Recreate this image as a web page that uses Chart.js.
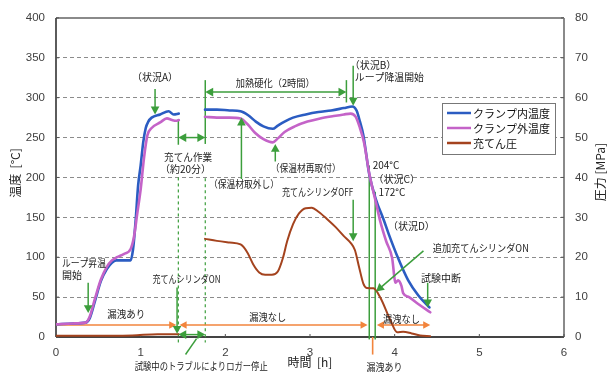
<!DOCTYPE html>
<html lang="ja">
<head>
<meta charset="utf-8">
<title>ループ温度と充てん圧の推移</title>
<script src="https://cdn.jsdelivr.net/npm/chart.js@4.4.1/dist/chart.umd.min.js"></script>
<style>
  html, body { margin: 0; padding: 0; background: #fff; }
  #wrap { width: 611px; height: 377px; }
</style>
</head>
<body>
<div id="wrap"><canvas id="chart" width="611" height="377"></canvas></div>
<script>
// 目盛り
const hourTicks = [0, 1, 2, 3, 4, 5, 6];
const tempTicks = [0, 50, 100, 150, 200, 250, 300, 350, 400];
const pressTicks = [0, 10, 20, 30, 40, 50, 60, 70, 80];

// クランプ内温度 [°C]（null はロガー停止中）
const innerTime = [0, 0.2, 0.35, 0.40, 0.46, 0.53, 0.60, 0.66, 0.71, 0.80, 0.88, 0.91, 0.94, 0.97, 1.00, 1.03, 1.06, 1.09, 1.13, 1.23, 1.33, 1.39, 1.45, 1.60,
  1.76, 1.90, 2.05, 2.18, 2.27, 2.36, 2.45, 2.56, 2.62, 2.70, 2.80, 2.95, 3.10, 3.25, 3.40, 3.50, 3.55, 3.59, 3.63, 3.70, 3.78, 3.87, 3.93, 4.04, 4.16, 4.28, 4.41];
const innerTemp = [16, 17, 18, 24, 45, 70, 85, 93, 96, 96, 96, 110, 145, 190, 215, 244, 262, 270, 275, 279, 283, 279, 280, null,
  285, 285, 284, 283, 278, 270, 264, 261, 265, 270, 275, 279, 282, 284, 287, 289, 284, 270, 253, 204, 172, 147, 129, 99, 71, 52, 37];

// クランプ外温度 [°C]
const outerTime = [0, 0.2, 0.35, 0.40, 0.46, 0.53, 0.60, 0.66, 0.72, 0.80, 0.88, 0.92, 0.96, 1.00, 1.04, 1.08, 1.13, 1.23, 1.31, 1.37, 1.42, 1.45, 1.60,
  1.76, 1.90, 2.05, 2.18, 2.26, 2.35, 2.45, 2.56, 2.62, 2.70, 2.82, 2.97, 3.12, 3.28, 3.40, 3.48, 3.54, 3.59, 3.64, 3.70, 3.78, 3.83, 3.90, 3.97, 4.01, 4.04, 4.08, 4.10, 4.17, 4.27, 4.42];
const outerTemp = [16, 17, 18, 26, 48, 72, 88, 96, 100, 104, 110, 125, 155, 185, 225, 253, 262, 269, 274, 272, 271, 272, null,
  276, 275, 275, 274, 267, 256, 248, 244, 249, 257, 264, 270, 274, 277, 279, 280, 276, 262, 243, 205, 168, 145, 120, 99, 68, 71, 64, 55, 50, 42, 31];

// 充てん圧 [MPa]
const pressTime = [0, 0.3, 0.9, 1.2, 1.45, 1.60, 1.76, 1.90, 2.05, 2.18, 2.26, 2.33, 2.40, 2.47, 2.55, 2.62, 2.68, 2.73, 2.80, 2.87, 2.95, 3.02, 3.10, 3.20, 3.30, 3.40,
  3.48, 3.53, 3.58, 3.63, 3.67, 3.75, 3.83, 3.95, 4.03, 4.10, 4.20, 4.30, 4.42];
const pressure = [0.3, 0.3, 0.4, 0.7, 0.7, null, 24.6, 24.1, 23.7, 23.2, 21.2, 18.2, 16.2, 15.6, 15.6, 16.4, 19.8, 24.0, 28.3, 31.0, 32.3, 32.4, 31.4, 29.6, 27.6, 25.3,
  23.6, 21.8, 17.5, 13.4, 12.3, 12.2, 9.9, 4.2, 1.2, 1.3, 0.9, 0.4, 0.2];

// 注記の文字（時間, 温度軸の値, 揃え, 最大幅）
const notes = [
  ['（状況A）', 1.17, 326, 'center'],
  ['充てん作業', 1.56, 225, 'center', 48],
  ['（約20分）', 1.53, 210, 'center'],
  ['加熱硬化（2時間）', 2.59, 318, 'center', 79],
  ['（状況B）', 3.47, 341, 'left'],
  ['ループ降温開始', 3.53, 326, 'left', 69],
  ['（保温材取外し）', 2.22, 191, 'center', 70],
  ['（保温材再取付）', 2.95, 212, 'center', 70],
  ['204°C', 3.74, 215, 'left'],
  ['（状況C）', 3.75, 198, 'left'],
  ['172°C', 3.81, 182, 'left'],
  ['充てんシリンダOFF', 2.67, 182, 'left', 71],
  ['（状況D）', 3.92, 139, 'left'],
  ['追加充てんシリンダON', 4.45, 111, 'left', 96],
  ['試験中断', 4.31, 74, 'left', 40],
  ['充てんシリンダON', 1.14, 72, 'left', 68],
  ['ループ昇温', 0.07, 92, 'left', 44],
  ['開始', 0.07, 77, 'left'],
  ['漏洩あり', 0.83, 28, 'center', 38],
  ['漏洩なし', 2.50, 25, 'center', 37],
  ['漏洩なし', 4.08, 22, 'center', 37],
  ['漏洩あり', 3.88, -38, 'center', 36],
  ['試験中のトラブルによりロガー停止', 0.93, -36, 'left', 133]
];

// 矢印（始点 → 先端）
const arrows = [
  [1.17, 311, 1.17, 279],
  [3.51, 340, 3.51, 290],
  [2.19, 198, 2.19, 275],
  [2.59, 220, 2.59, 242],
  [3.51, 172, 3.51, 120],
  [4.39, 68, 4.39, 37],
  [0.38, 68, 0.38, 30],
  [1.43, 62, 1.43, 4],
  [4.34, 108, 3.78, 57]
];

// 期間を示す両矢印
const spans = [
  [1.445, 1.763, 250],
  [1.763, 3.43, 307],
  [1.445, 1.763, 3]
];

// 縦の区切り線（時間, 上端, 下端, 破線）
const markers = [
  [1.445, 273, 241, false],
  [1.445, 200, -7, true],
  [1.763, 322, 242, false],
  [1.763, 199, -7, true],
  [3.43, 322, 294, false],
  [3.70, 215, -3, false],
  [3.77, 182, -3, false]
];

// 漏洩の区間（始点, 終点, 左矢じり, 右矢じり）
const leaks = [
  [0, 1.42, false, true],
  [1.46, 3.68, true, true],
  [3.79, 4.42, true, true]
];
const leakLevel = 15;

const GREEN = '#3c9e3c';
const ORANGE = '#f2843c';
const JP = '"Noto Sans CJK JP", sans-serif';
const pts = (ts, vs) => ts.map((t, i) => ({ x: t, y: vs[i] }));

function head(ctx, x1, y1, x2, y2, size) {
  const a = Math.atan2(y2 - y1, x2 - x1);
  ctx.beginPath();
  ctx.moveTo(x2, y2);
  ctx.lineTo(x2 - size * Math.cos(a - 0.5), y2 - size * Math.sin(a - 0.5));
  ctx.lineTo(x2 - size * Math.cos(a + 0.5), y2 - size * Math.sin(a + 0.5));
  ctx.closePath();
  ctx.fill();
}

function line(ctx, x1, y1, x2, y2) {
  ctx.beginPath();
  ctx.moveTo(x1, y1);
  ctx.lineTo(x2, y2);
  ctx.stroke();
}

const overlay = {
  id: 'overlay',
  beforeDatasetsDraw(chart) {
    const { ctx, chartArea: a, scales: { x, y, y1 } } = chart;
    const px = t => x.getPixelForValue(t);
    const py = v => y.getPixelForValue(v);
    ctx.save();

    // 枠
    ctx.lineWidth = 2;
    ctx.strokeStyle = '#8a8a8a';
    line(ctx, a.left, a.top, a.right, a.top);
    line(ctx, a.right, a.top, a.right, a.bottom);
    ctx.strokeStyle = '#333';
    ctx.lineWidth = 1.6;
    line(ctx, a.left, a.top, a.left, a.bottom);
    ctx.lineWidth = 2;
    ctx.strokeStyle = '#444';
    line(ctx, a.left, a.bottom, a.right, a.bottom);

    // 内向きの目盛り線
    ctx.lineWidth = 1;
    ctx.strokeStyle = '#555';
    tempTicks.forEach(v => line(ctx, a.left, py(v), a.left + 3, py(v)));
    pressTicks.forEach(v => line(ctx, a.right - 3, y1.getPixelForValue(v), a.right, y1.getPixelForValue(v)));
    hourTicks.forEach(t => line(ctx, px(t), a.bottom, px(t), a.bottom - 3));

    // 区切り線
    ctx.strokeStyle = GREEN;
    markers.forEach(([t, v0, v1, dashed]) => {
      ctx.lineWidth = dashed ? 1.2 : 1.5;
      ctx.setLineDash(dashed ? [3, 3] : []);
      line(ctx, px(t), py(v0), px(t), py(v1));
    });
    ctx.setLineDash([]);

    // 漏洩の区間
    ctx.strokeStyle = ORANGE;
    ctx.fillStyle = ORANGE;
    ctx.lineWidth = 1.6;
    const ly = py(leakLevel);
    leaks.forEach(([t0, t1, l, r]) => {
      const x0 = px(t0), x1 = px(t1);
      line(ctx, x0 + (l ? 5 : 0), ly, x1 - (r ? 5 : 0), ly);
      if (l) head(ctx, x1, ly, x0, ly, 8);
      if (r) head(ctx, x0, ly, x1, ly, 8);
    });
    const lx = px(3.74);
    line(ctx, lx, py(0), lx, py(-22));
    ctx.restore();
  },
  afterDatasetsDraw(chart) {
    const { ctx, scales: { x, y } } = chart;
    const px = t => x.getPixelForValue(t);
    const py = v => y.getPixelForValue(v);
    ctx.save();

    // 矢印
    ctx.strokeStyle = GREEN;
    ctx.fillStyle = GREEN;
    ctx.lineWidth = 1.5;
    arrows.forEach(([t0, v0, t1, v1]) => {
      const x0 = px(t0), y0 = py(v0), x1 = px(t1), y1 = py(v1);
      const len = Math.hypot(x1 - x0, y1 - y0);
      const k = (len - 6) / len;
      line(ctx, x0, y0, x0 + (x1 - x0) * k, y0 + (y1 - y0) * k);
      head(ctx, x0, y0, x1, y1, 9);
    });
    spans.forEach(([t0, t1, v]) => {
      const x0 = px(t0), x1 = px(t1), yy = py(v);
      line(ctx, x0 + 5, yy, x1 - 5, yy);
      head(ctx, x1, yy, x0, yy, 9);
      head(ctx, x0, yy, x1, yy, 9);
    });
    // ロガー停止の引出し線
    line(ctx, px(1.53), py(-22), px(1.66), py(-2));

    // 注記
    ctx.fillStyle = '#222';
    ctx.font = '10px ' + JP;
    ctx.textBaseline = 'middle';
    notes.forEach(([text, t, v, align, w]) => {
      ctx.textAlign = align;
      if (w) ctx.fillText(text, px(t), py(v), w);
      else ctx.fillText(text, px(t), py(v));
    });

    // 凡例
    const items = chart.data.datasets;
    ctx.strokeStyle = '#777';
    ctx.lineWidth = 1;
    ctx.fillStyle = '#fff';
    ctx.fillRect(442, 103, 113, 51);
    ctx.strokeRect(442.5, 103.5, 113, 51);
    ctx.font = '11px ' + JP;
    ctx.textAlign = 'left';
    items.forEach((d, i) => {
      const ly = 113 + i * 15;
      ctx.strokeStyle = d.borderColor;
      ctx.lineWidth = 2.5;
      line(ctx, 447, ly, 471, ly);
      ctx.fillStyle = '#111';
      ctx.fillText(d.label, 473, ly + 0.5);
    });

    // 軸タイトル
    ctx.fillStyle = '#222';
    ctx.font = '12px ' + JP;
    ctx.textAlign = 'center';
    ctx.fillText('時間  [h]', 310, 362);
    ctx.save();
    ctx.translate(15, 173);
    ctx.rotate(-Math.PI / 2);
    ctx.fillText('温度  [°C]', 0, 0);
    ctx.restore();
    ctx.save();
    ctx.translate(600, 172);
    ctx.rotate(-Math.PI / 2);
    ctx.fillText('圧力 [MPa]', 0, 0);
    ctx.restore();
    ctx.restore();
  }
};

const tickFont = { family: '"Liberation Sans", Arial, sans-serif', size: 11.5 };
const setTicks = list => scale => { scale.ticks = list.map(v => ({ value: v })); };

new Chart(document.getElementById('chart'), {
  type: 'line',
  data: {
    datasets: [
      { label: 'クランプ内温度', data: pts(innerTime, innerTemp), borderColor: '#2b5cc2', borderWidth: 2.6, yAxisID: 'y', order: 2 },
      { label: 'クランプ外温度', data: pts(outerTime, outerTemp), borderColor: '#c463c8', borderWidth: 2.6, yAxisID: 'y', order: 1 },
      { label: '充てん圧', data: pts(pressTime, pressure), borderColor: '#a4431e', borderWidth: 2, yAxisID: 'y1', order: 3 }
    ]
  },
  options: {
    responsive: false,
    animation: false,
    devicePixelRatio: 1,
    spanGaps: false,
    layout: { padding: { top: 14, left: 0, right: 0, bottom: 0 } },
    elements: {
      point: { radius: 0 },
      line: { cubicInterpolationMode: 'monotone', borderCapStyle: 'round', borderJoinStyle: 'round' }
    },
    plugins: { legend: { display: false }, tooltip: { enabled: false } },
    scales: {
      x: {
        type: 'linear', min: 0, max: 6,
        afterBuildTicks: setTicks(hourTicks),
        afterFit: s => { s.height = 40; },
        grid: { display: false, drawTicks: false },
        border: { display: false },
        ticks: { padding: 9, font: tickFont, color: '#404040', maxRotation: 0 }
      },
      y: {
        position: 'left', min: 0, max: 400,
        afterBuildTicks: setTicks(tempTicks),
        afterFit: s => { s.width = 56; },
        grid: {
          drawTicks: false, lineWidth: 1,
          color: c => (c.tick.value === 0 || c.tick.value === 400) ? 'rgba(0,0,0,0)' : '#8c8c8c'
        },
        border: { display: false, dash: [4, 3] },
        ticks: { padding: 11, font: tickFont, color: '#404040' }
      },
      y1: {
        position: 'right', min: 0, max: 80,
        afterBuildTicks: setTicks(pressTicks),
        afterFit: s => { s.width = 47; },
        grid: { drawOnChartArea: false, drawTicks: false },
        border: { display: false },
        ticks: { padding: 11, font: tickFont, color: '#404040' }
      }
    }
  },
  plugins: [overlay]
});
</script>
</body>
</html>
